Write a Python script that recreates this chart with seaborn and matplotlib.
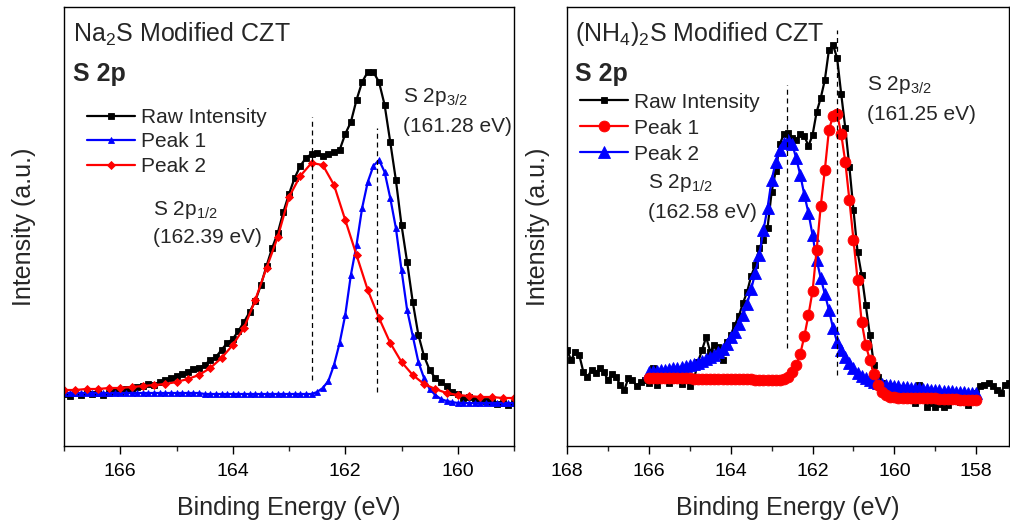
import numpy as np
import matplotlib
matplotlib.use("Agg")
import matplotlib.pyplot as plt
from matplotlib.ticker import MultipleLocator
import seaborn as sns

# ---------------- data: Na2S modified CZT (left) ----------------
left_energy = np.round(np.linspace(167.0, 159.0, 81), 1)      # 0.1 eV grid
left_energy_p2 = np.round(np.linspace(167.0, 159.0, 41), 1)   # 0.2 eV grid

left_raw = [52, 50, 53, 51, 54, 52, 53, 51, 53, 55,
            54, 57, 56, 59, 60, 62, 61, 64, 66, 68,
            70, 72, 74, 77, 78, 81, 86, 89, 96, 103,
            107, 115, 124, 134, 145, 161, 180, 198, 213, 234,
            252, 268, 280, 288, 292, 293, 290, 292, 294, 296,
            312, 324, 346, 364, 374, 374, 364, 341, 304, 266,
            221, 184, 144, 111, 90, 76, 68, 64, 60, 54,
            52, 48, 49, 46, 47, 45, 44, 42, 43, 41,
            43]

left_peak1 = [53, 53, 53, 53, 53, 53, 53, 53, 53, 53,
              53, 53, 53, 53, 53, 53, 53, 53, 53, 53,
              53, 53, 53, 53, 53, 52, 52, 52, 52, 52,
              52, 52, 52, 52, 52, 52, 52, 52, 52, 52,
              52, 52, 52, 52, 52, 54, 58, 65, 81, 103,
              131, 171, 201, 238, 264, 280, 286, 274, 248, 218,
              176, 136, 110, 84, 68, 57, 51, 47, 45, 44,
              43, 43, 43, 43, 43, 43, 43, 43, 43, 43,
              43]

left_peak2 = [56, 56, 57, 57, 58, 58, 59, 60, 61, 62,
              64, 67, 71, 78, 88, 101, 118, 146, 178, 209,
              249, 270, 283, 281, 261, 226, 191, 156, 128, 103,
              84, 71, 62, 57, 53, 51, 50, 49, 49, 48,
              48]

left_lines_x = [162.6, 161.43]
left_lines_lo = [66, 54]
left_lines_hi = [329, 318]

# ---------------- data: (NH4)2S modified CZT (right) ----------------
right_energy_raw = np.round(np.linspace(168.0, 157.2, 109), 1)
right_energy_fit = np.round(np.linspace(166.0, 158.0, 81), 1)

right_raw = [96, 86, 94, 91, 74, 69, 76, 73, 78, 74,
             66, 72, 69, 61, 56, 68, 66, 60, 64, 66,
             63, 78, 61, 68, 71, 63, 66, 68, 62, 66,
             60, 66, 84, 96, 109, 94, 101, 99, 86, 104,
             111, 121, 130, 143, 154, 170, 181, 198, 206, 218,
             254, 275, 302, 312, 313, 308, 306, 312, 310, 300,
             311, 334, 348, 366, 396, 401, 388, 352, 318, 279,
             236, 194, 171, 141, 111, 81, 69, 63, 58, 60,
             59, 56, 58, 51, 46, 43, 61, 48, 39, 43,
             39, 42, 39, 41, 48, 49, 44, 46, 41, 48,
             53, 60, 61, 63, 60, 56, 53, 61, 63]

right_peak1 = [68, 68, 68, 68, 68, 68, 68, 68, 68, 68,
               68, 67, 67, 67, 67, 67, 67, 67, 67, 67,
               67, 67, 67, 67, 67, 67, 66, 66, 66, 66,
               66, 66, 66, 67, 69, 74, 81, 92, 110, 131,
               155, 196, 240, 276, 316, 330, 332, 312, 284, 246,
               206, 166, 124, 101, 86, 72, 61, 54, 51, 49,
               49, 48, 48, 48, 48, 48, 48, 48, 48, 48,
               48, 47, 47, 47, 47, 47, 46, 46, 46, 46,
               46]

right_peak2 = [74, 75, 75, 76, 76, 77, 78, 78, 79, 80,
               81, 82, 83, 85, 87, 89, 91, 94, 97, 102,
               109, 114, 122, 131, 142, 157, 173, 191, 216, 238,
               266, 284, 296, 303, 306, 302, 288, 271, 251, 233,
               211, 186, 168, 152, 136, 118, 104, 96, 89, 83,
               78, 73, 70, 68, 66, 64, 63, 62, 61, 61,
               60, 60, 59, 59, 58, 58, 58, 57, 57, 56,
               56, 56, 55, 55, 55, 54, 54, 54, 53, 53,
               53]

right_lines_x = [162.63, 161.41]
right_lines_lo = [98, 71]
right_lines_hi = [361, 416]

# ---------------- styling ----------------
sns.set_theme(style="ticks")
plt.rcParams['font.family'] = ['Liberation Sans', 'DejaVu Sans']
plt.rcParams['mathtext.default'] = 'regular'

fig = plt.figure(figsize=(10.1, 5.21), dpi=100)
ax1 = fig.add_axes([64 / 1010, 75 / 521, 450 / 1010, 439 / 521])
ax2 = fig.add_axes([567 / 1010, 75 / 521, 442 / 1010, 439 / 521])

LW = 1.6


def curve(ax, x, y, color, marker, ms, label):
    sns.lineplot(x=x, y=y, ax=ax, color=color, marker=marker, markersize=ms,
                 markeredgecolor=color, markeredgewidth=0.6, linewidth=LW,
                 label=label, sort=False, estimator=None)


# left panel
curve(ax1, left_energy, left_raw, 'black', 's', 3.8, 'Raw Intensity')
curve(ax1, left_energy, left_peak1, '#0000ff', '^', 4.8, 'Peak 1')
curve(ax1, left_energy_p2, left_peak2, '#ff0000', 'D', 3.8, 'Peak 2')
ax1.vlines(left_lines_x, left_lines_lo, left_lines_hi, colors='black',
           linestyles=(0, (4, 3)), linewidth=0.9)

# right panel
curve(ax2, right_energy_raw, right_raw, 'black', 's', 4.0, 'Raw Intensity')
curve(ax2, right_energy_fit, right_peak2, '#0000ff', '^', 8.5, 'Peak 2')
curve(ax2, right_energy_fit, right_peak1, '#ff0000', 'o', 7.8, 'Peak 1')
ax2.vlines(right_lines_x, right_lines_lo, right_lines_hi, colors='black',
           linestyles=(0, (4, 3)), linewidth=0.9)

for ax, xlim, ticks in [(ax1, (167, 159), [166, 164, 162, 160]),
                        (ax2, (168, 157.2), [168, 166, 164, 162, 160, 158])]:
    ax.set_xlim(*xlim)
    ax.set_ylim(0, 439)
    ax.set_xticks(ticks)
    ax.xaxis.set_minor_locator(MultipleLocator(1))
    ax.set_yticks([])
    ax.tick_params(axis='x', which='major', length=6, width=1.0, direction='out',
                   labelsize=14, pad=6, colors='black')
    ax.tick_params(axis='x', which='minor', length=3.5, width=1.0, direction='out')
    for s in ax.spines.values():
        s.set_color('black')
        s.set_linewidth(1.0)
    ax.set_xlabel('Binding Energy (eV)', fontsize=18, labelpad=12)

ax1.set_ylabel('Intensity (a.u.)', fontsize=18, labelpad=20)
ax2.set_ylabel('Intensity (a.u.)', fontsize=18, labelpad=12)

# legends
h, l = ax1.get_legend_handles_labels()
ax1.legend(h, l, loc='upper left', bbox_to_anchor=(0.051, 0.770), frameon=False,
           fontsize=15, handlelength=2.3, handletextpad=0.3, labelspacing=0.26,
           borderpad=0, borderaxespad=0)
h, l = ax2.get_legend_handles_labels()
order = [0, 2, 1]
ax2.legend([h[i] for i in order], [l[i] for i in order], loc='upper left',
           bbox_to_anchor=(0.029, 0.805), frameon=False, fontsize=15,
           handlelength=2.3, handletextpad=0.3, labelspacing=0.34,
           borderpad=0, borderaxespad=0)

# texts
ax1.text(0.02, 0.938, 'Na$_2$S Modified CZT', transform=ax1.transAxes,
         fontsize=18, va='center', ha='left')
ax1.text(0.02, 0.847, 'S 2p', transform=ax1.transAxes, fontsize=18,
         fontweight='bold', va='center', ha='left')
ax1.text(0.753, 0.795, 'S 2p$_{3/2}$', transform=ax1.transAxes, fontsize=15,
         va='center', ha='left')
ax1.text(0.753, 0.727, '(161.28 eV)', transform=ax1.transAxes, fontsize=15,
         va='center', ha='left')
ax1.text(0.198, 0.538, 'S 2p$_{1/2}$', transform=ax1.transAxes, fontsize=15,
         va='center', ha='left')
ax1.text(0.198, 0.474, '(162.39 eV)', transform=ax1.transAxes, fontsize=15,
         va='center', ha='left')

ax2.text(0.018, 0.938, '(NH$_4$)$_2$S Modified CZT', transform=ax2.transAxes,
         fontsize=18, va='center', ha='left')
ax2.text(0.018, 0.847, 'S 2p', transform=ax2.transAxes, fontsize=18,
         fontweight='bold', va='center', ha='left')
ax2.text(0.679, 0.822, 'S 2p$_{3/2}$', transform=ax2.transAxes, fontsize=15,
         va='center', ha='left')
ax2.text(0.679, 0.754, '(161.25 eV)', transform=ax2.transAxes, fontsize=15,
         va='center', ha='left')
ax2.text(0.183, 0.599, 'S 2p$_{1/2}$', transform=ax2.transAxes, fontsize=15,
         va='center', ha='left')
ax2.text(0.183, 0.533, '(162.58 eV)', transform=ax2.transAxes, fontsize=15,
         va='center', ha='left')

fig.savefig('out.png', dpi=100)
